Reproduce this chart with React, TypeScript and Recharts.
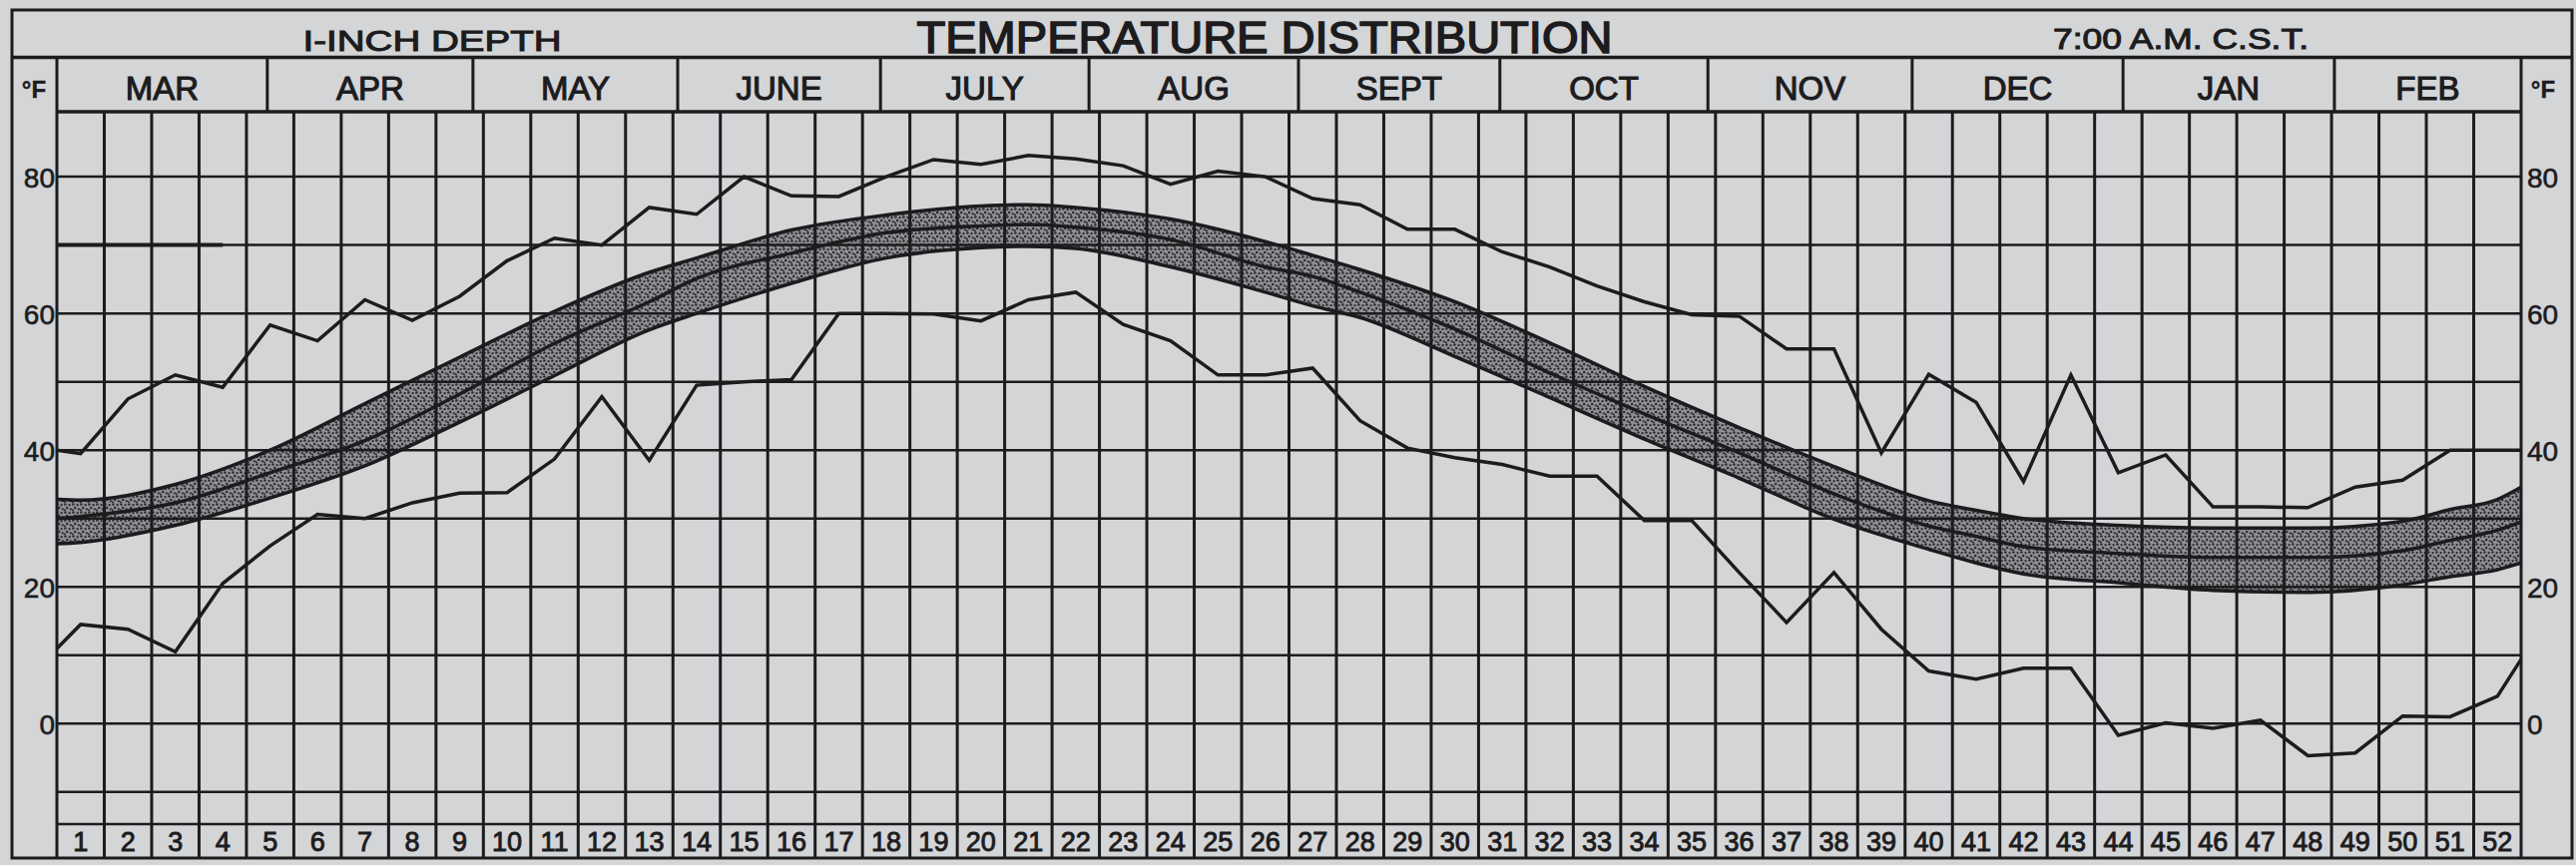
import { ComposedChart, Line, Area, XAxis, YAxis, ReferenceLine } from "recharts";

const W = 2581;
const H = 867;
const INK = "#1c1c1e";
const PAPER = "#d4d5d7";
const FONT = "Liberation Sans, Arial, sans-serif";

const weekNumbers = [
  1, 2, 3, 4, 5, 6, 7, 8, 9, 10, 11, 12, 13, 14, 15, 16, 17, 18, 19, 20, 21, 22, 23, 24, 25, 26,
  27, 28, 29, 30, 31, 32, 33, 34, 35, 36, 37, 38, 39, 40, 41, 42, 43, 44, 45, 46, 47, 48, 49, 50, 51, 52,
];

// weekly extremes (°F), week 1 .. 52
const maxTemps = [
  39.5, 47.5, 51, 49.2, 58.3, 56, 62, 59, 62.5, 67.7, 71, 70, 75.5, 74.5, 80, 77.2, 77.1, 80, 82.5, 81.8,
  83.1, 82.6, 81.6, 78.9, 80.8, 80, 76.8, 75.9, 72.3, 72.3, 69, 66.8, 64, 61.7, 59.8, 59.6, 54.8, 54.8, 39.6, 51.1,
  47, 35.4, 51, 36.7, 39.3, 31.7, 31.7, 31.6, 34.6, 35.6, 40, 40,
];
const minTemps = [
  14.5, 13.8, 10.5, 20.5, 26, 30.6, 30, 32.3, 33.7, 33.8, 38.7, 47.8, 38.5, 49.5, 50, 50.3, 60, 60, 59.9, 58.9,
  62, 63.1, 58.4, 56, 51, 51, 52, 44.3, 40.3, 38.9, 37.9, 36.2, 36.2, 29.7, 29.7, 22.1, 14.8, 22.1, 13.8, 7.7,
  6.5, 8.1, 8.1, -1.7, 0.1, -0.7, 0.5, -4.7, -4.3, 1.1, 1, 4,
];
// values where the extreme lines meet the left and right edges of the grid
const maxEnds = [40, 40];
const minEnds = [11, 9.4];

// shaded normal band
const bandWeeks = [0.5, 1, 3, 5, 7, 9, 11, 13, 14, 16, 18, 20, 21, 22, 24, 26, 27, 28, 30, 32, 34, 36, 38, 40, 41, 42, 44, 46, 48, 50, 51, 52, 52.5];
const bandUpper = [32.8, 32.7, 35, 40, 46.8, 53.6, 60.3, 66, 68.1, 72.2, 74.4, 75.7, 75.9, 75.5, 73.8, 70.5, 68.5, 66.4, 61.7, 55.7, 49.3, 43.3, 37.6, 32.6, 31.2, 30, 29, 28.6, 28.6, 29.6, 31.3, 32.8, 34.6];
const bandMid = [30, 30.3, 32.3, 36.7, 41.4, 48.2, 55.6, 61.7, 65.1, 68.8, 71.8, 72.8, 73, 72.6, 70.8, 66.8, 65.4, 63.1, 57.7, 51.3, 45.3, 39.6, 33.6, 28.9, 27.4, 25.9, 24.9, 24.3, 24.3, 25.3, 26.8, 28.3, 29.5];
const bandLower = [26.3, 26.5, 29, 33, 37.7, 44.1, 50.9, 57.6, 60, 64.4, 68.1, 69.6, 69.8, 69.5, 66.8, 63.1, 61.1, 59.4, 53.7, 47.7, 41.6, 35.9, 29.9, 25.5, 23.5, 21.9, 20.6, 19.5, 19.2, 20.3, 21.5, 22.5, 23.5];

// short heavy stroke on the 70° line at the start of the year
const startMarkWeeks = [0.5, 4];
const startMarkTemps = [70, 70];

const monthNames = ["MAR", "APR", "MAY", "JUNE", "JULY", "AUG", "SEPT", "OCT", "NOV", "DEC", "JAN", "FEB"];
const monthEdges = [0.5, 4.94, 9.28, 13.6, 17.88, 22.28, 26.7, 30.95, 35.34, 39.65, 44.1, 48.56, 52.5];

const tempTicks = [-10, 0, 10, 20, 30, 40, 50, 60, 70, 80];
const labelledTemps = [0, 20, 40, 60, 80];
const tempDomain = [-14.7, 89.5];
const weekDomain = [0.5, 52.5];

const maxData = [
  { w: weekDomain[0], t: maxEnds[0] },
  ...weekNumbers.map((w, i) => ({ w, t: maxTemps[i] })),
  { w: weekDomain[1], t: maxEnds[1] },
];
const minData = [
  { w: weekDomain[0], t: minEnds[0] },
  ...weekNumbers.map((w, i) => ({ w, t: minTemps[i] })),
  { w: weekDomain[1], t: minEnds[1] },
];
const bandData = bandWeeks.map((w, i) => ({
  w,
  hi: bandUpper[i],
  mid: bandMid[i],
  lo: bandLower[i],
  range: [bandLower[i], bandUpper[i]],
}));
const startMark = startMarkWeeks.map((w, i) => ({ w, t: startMarkTemps[i] }));

const weekEdges = [weekDomain[0], ...weekNumbers.map((w) => w + 0.5)];
const monthCenters = monthNames.map((_, i) => (monthEdges[i] + monthEdges[i + 1]) / 2);

// lettering is a bit heavier than the regular face
const letter = { fontFamily: FONT, fill: INK, stroke: INK, strokeWidth: 0.9 };

function WeekTick({ x, y, payload }: any) {
  const v = payload.value;
  if (Number.isInteger(v)) {
    return (
      <text x={x} y={y + 18} textAnchor="middle" dominantBaseline="central" fontSize={27} {...letter}>
        {v}
      </text>
    );
  }
  return <line x1={x} x2={x} y1={y} y2={y + 34} stroke={INK} strokeWidth={3} />;
}

function MonthTick({ x, y, payload }: any) {
  const i = monthCenters.indexOf(payload.value);
  if (i >= 0) {
    return (
      <text x={x} y={y - 24} textAnchor="middle" dominantBaseline="central" fontSize={33} {...letter} strokeWidth={1.1}>
        {monthNames[i]}
      </text>
    );
  }
  return <line x1={x} x2={x} y1={y} y2={y - 54} stroke={INK} strokeWidth={3} />;
}

function LeftTick({ x, y, payload }: any) {
  if (!labelledTemps.includes(payload.value)) return <g />;
  return (
    <text x={x - 2} y={y + 1} textAnchor="end" dominantBaseline="central" fontSize={28} {...letter} strokeWidth={0.6}>
      {payload.value}
    </text>
  );
}

function RightTick({ x, y, payload }: any) {
  if (!labelledTemps.includes(payload.value)) return <g />;
  return (
    <text x={x + 6} y={y + 1} textAnchor="start" dominantBaseline="central" fontSize={28} {...letter} strokeWidth={0.6}>
      {payload.value}
    </text>
  );
}

export default function App() {
  return (
    <div style={{ position: "relative", width: W, height: H, background: PAPER }}>
      <style>{`body{margin:0;background:${PAPER}}`}</style>
      <ComposedChart width={W} height={H} margin={{ top: 58, right: 4, bottom: 7, left: 12 }}>
        <defs>
          <pattern id="stipple" width="8" height="8" patternUnits="userSpaceOnUse">
            <rect width="8" height="8" fill="#8f9093" />
            <circle cx="1.4" cy="1.4" r="1.25" fill="#2a2a2c" />
            <circle cx="5.6" cy="2.2" r="1.15" fill="#2a2a2c" />
            <circle cx="3.2" cy="4.9" r="1.25" fill="#2a2a2c" />
            <circle cx="6.8" cy="6.3" r="1.15" fill="#2a2a2c" />
            <circle cx="0.8" cy="7.2" r="1" fill="#2a2a2c" />
          </pattern>
        </defs>

        <XAxis
          dataKey="w"
          type="number"
          domain={weekDomain}
          allowDataOverflow
          ticks={[...weekEdges, ...weekNumbers]}
          interval={0}
          height={34}
          tickSize={0}
          tickMargin={0}
          axisLine={false}
          tickLine={false}
          tick={<WeekTick />}
        />
        <XAxis
          xAxisId="m"
          orientation="top"
          dataKey="w"
          type="number"
          domain={weekDomain}
          allowDataOverflow
          ticks={[...monthEdges, ...monthCenters]}
          interval={0}
          height={54}
          tickSize={0}
          tickMargin={0}
          axisLine={false}
          tickLine={false}
          tick={<MonthTick />}
        />
        <YAxis
          type="number"
          domain={tempDomain}
          allowDataOverflow
          ticks={tempTicks}
          interval={0}
          width={45}
          tickSize={0}
          tickMargin={0}
          axisLine={false}
          tickLine={false}
          tick={<LeftTick />}
        />
        <YAxis
          yAxisId="r"
          orientation="right"
          type="number"
          domain={tempDomain}
          allowDataOverflow
          ticks={tempTicks}
          interval={0}
          width={51}
          tickSize={0}
          tickMargin={0}
          axisLine={false}
          tickLine={false}
          tick={<RightTick />}
        />

        {weekEdges.map((w) => (
          <ReferenceLine key={"v" + w} x={w} stroke={INK} strokeWidth={3} />
        ))}
        {[...tempTicks, ...tempDomain].map((t) => (
          <ReferenceLine key={"h" + t} y={t} stroke={INK} strokeWidth={t === tempDomain[1] ? 3.5 : 2.5} />
        ))}

        <Area
          data={bandData}
          dataKey="range"
          type="monotone"
          fill="url(#stipple)"
          fillOpacity={1}
          stroke="none"
          isAnimationActive={false}
        />
        <Line data={bandData} dataKey="hi" type="monotone" stroke={INK} strokeWidth={3.5} dot={false} activeDot={false} isAnimationActive={false} />
        <Line data={bandData} dataKey="mid" type="monotone" stroke={INK} strokeWidth={3.5} dot={false} activeDot={false} isAnimationActive={false} />
        <Line data={bandData} dataKey="lo" type="monotone" stroke={INK} strokeWidth={3.5} dot={false} activeDot={false} isAnimationActive={false} />
        <Line data={maxData} dataKey="t" type="linear" stroke={INK} strokeWidth={3.5} dot={false} activeDot={false} isAnimationActive={false} />
        <Line data={minData} dataKey="t" type="linear" stroke={INK} strokeWidth={3.5} dot={false} activeDot={false} isAnimationActive={false} />
        <Line data={startMark} dataKey="t" type="linear" stroke={INK} strokeWidth={4} dot={false} activeDot={false} isAnimationActive={false} />
      </ComposedChart>

      <svg
        width={W}
        height={H}
        style={{ position: "absolute", left: 0, top: 0, pointerEvents: "none" }}
      >
        <rect x={12} y={10} width={2565} height={850} fill="none" stroke={INK} strokeWidth={3} />
        <line x1={12} x2={2577} y1={57.5} y2={57.5} stroke={INK} strokeWidth={3.5} />
        <text x={433} y={51} textAnchor="middle" fontSize={29} {...letter} strokeWidth={1} textLength={259} lengthAdjust="spacingAndGlyphs">
          I-INCH DEPTH
        </text>
        <text x={1267} y={53} textAnchor="middle" fontSize={45} {...letter} strokeWidth={1.6} textLength={697} lengthAdjust="spacingAndGlyphs">
          TEMPERATURE DISTRIBUTION
        </text>
        <text x={2185} y={49} textAnchor="middle" fontSize={29} {...letter} strokeWidth={1} textLength={256} lengthAdjust="spacingAndGlyphs">
          7:00 A.M. C.S.T.
        </text>
        <text x={34} y={89} textAnchor="middle" dominantBaseline="central" fontSize={24} fontWeight="bold" {...letter} strokeWidth={0.4}>
          °F
        </text>
        <text x={2548} y={89} textAnchor="middle" dominantBaseline="central" fontSize={24} fontWeight="bold" {...letter} strokeWidth={0.4}>
          °F
        </text>
      </svg>
    </div>
  );
}
